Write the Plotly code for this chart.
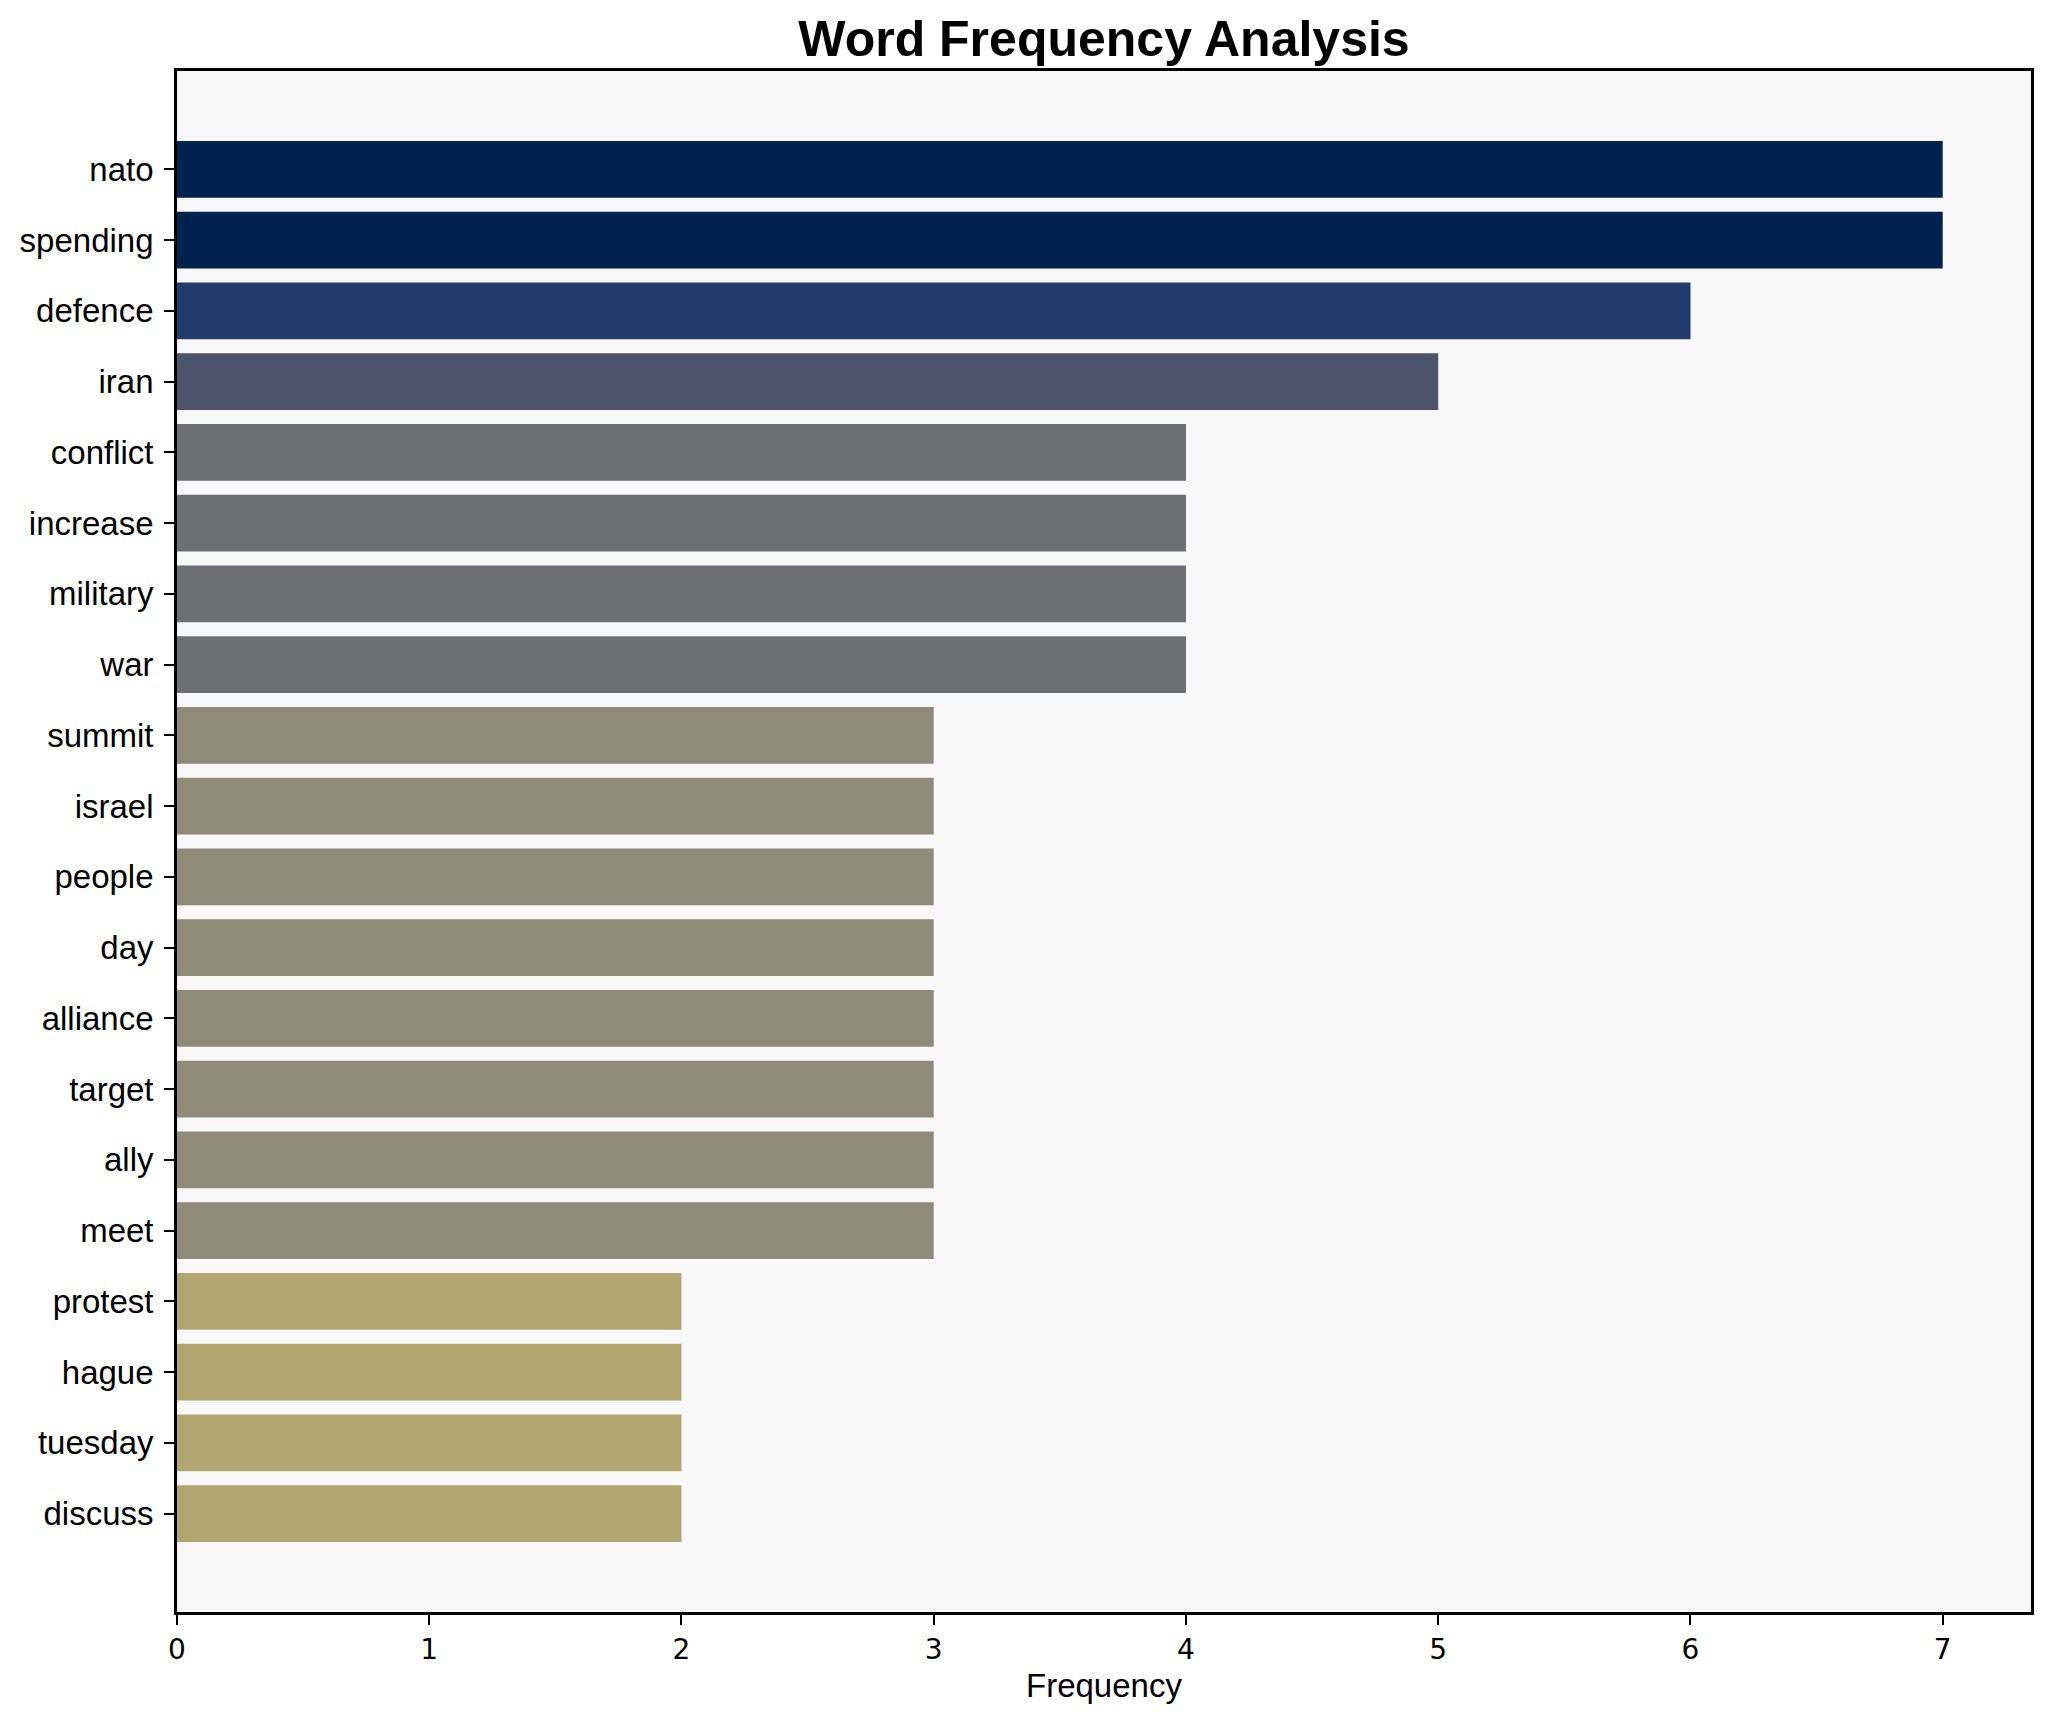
import plotly.graph_objects as go

words = ["nato", "spending", "defence", "iran", "conflict", "increase", "military", "war",
         "summit", "israel", "people", "day", "alliance", "target", "ally", "meet",
         "protest", "hague", "tuesday", "discuss"]
freqs = [7, 7, 6, 5, 4, 4, 4, 4, 3, 3, 3, 3, 3, 3, 3, 3, 2, 2, 2, 2]
x_ticks = [0, 1, 2, 3, 4, 5, 6, 7]

# cividis-like colour per frequency value (style)
palette = {7: "#00224E", 6: "#223B6D", 5: "#4C546C", 4: "#6E6F73",
           3: "#908A78", 2: "#B1A66F", 1: "#D3C265"}
colors = [palette[v] for v in freqs]

W, H = 2038, 1706
ml, mr, mt, mb = 166, 12, 63, 102
font = "Liberation Sans, Arial, sans-serif"
tickfont_x = "DejaVu Sans, sans-serif"

fig = go.Figure(go.Bar(
    x=freqs, y=words, orientation="h", width=0.8,
    marker=dict(color=colors, line=dict(width=0)),
))

fig.update_layout(
    width=W, height=H,
    margin=dict(l=ml, r=mr, t=mt, b=mb, pad=0),
    paper_bgcolor="white", plot_bgcolor="#F8F8F8",
    font=dict(family=font, color="black"),
    showlegend=False,
    title=dict(text="<b>Word Frequency Analysis</b>", x=(ml + (W - mr)) / 2 / W, xanchor="center",
               y=1 - 30 / H, yanchor="middle", yref="container",
               font=dict(size=50, family=font, color="black")),
    annotations=[dict(text="Frequency", xref="paper", yref="paper", x=0.5, y=0,
                      xanchor="center", yanchor="middle", yshift=-73, showarrow=False,
                      font=dict(size=33, family=font, color="black"))],
)
fig.update_xaxes(
    range=[0, 7.35], tickvals=x_ticks, ticktext=[str(t) for t in x_ticks],
    showgrid=False, zeroline=False,
    showline=True, linecolor="black", linewidth=2.7, mirror=True,
    ticks="outside", ticklen=10, tickwidth=2, tickcolor="black",
    tickfont=dict(size=28, family=tickfont_x, color="black"),
    ticklabelstandoff=1,
)
fig.update_yaxes(
    type="category", categoryorder="array", categoryarray=words,
    range=[len(words) - 1 + 1.39, -1.39],
    showgrid=False, zeroline=False,
    showline=True, linecolor="black", linewidth=2.7, mirror=True,
    ticks="outside", ticklen=10, tickwidth=2, tickcolor="black",
    tickfont=dict(size=33, family=font, color="black"),
    ticklabelstandoff=4,
)

fig.write_html("out.html")
